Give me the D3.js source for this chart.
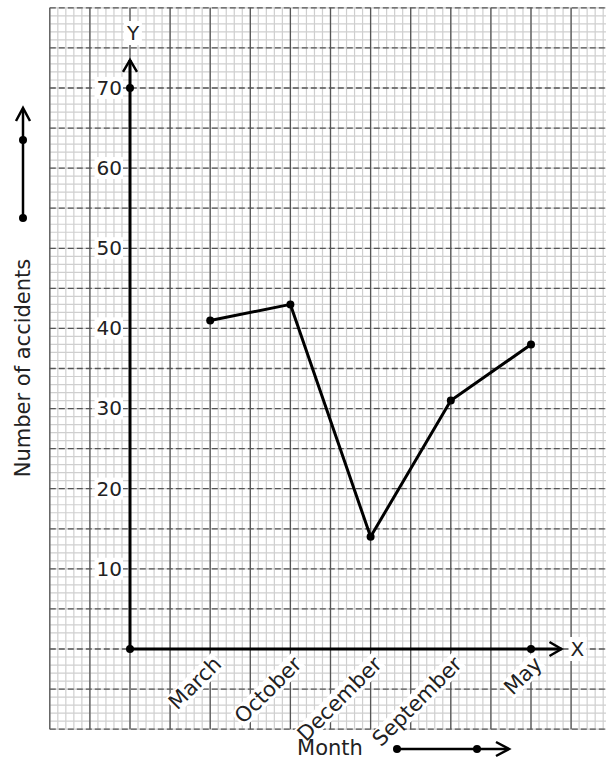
<!DOCTYPE html>
<html>
<head>
<meta charset="utf-8">
<script src="https://cdn.jsdelivr.net/npm/d3@7"></script>
<style>
  body { margin: 0; background: #fff; }
  text { font-family: "DejaVu Sans", sans-serif; fill: #222; }
</style>
</head>
<body>
<script>
// data
var months = ["March", "October", "December", "September", "May"];
var accidents = [41, 43, 14, 31, 38];
var yTicks = [10, 20, 30, 40, 50, 60, 70];

var w = 606, h = 762;

var svg = d3.select("body").append("svg")
    .attr("width", w)
    .attr("height", h);

// index 0 = origin, months sit at 1..5
var x = d3.scaleLinear().domain([0, 5]).range([130, 531]);
var y = d3.scaleLinear().domain([0, 70]).range([649, 88]);

// graph paper
var gx0 = -1, gx1 = 6.2, gy0 = -10, gy1 = 80;
var grid = svg.append("g");

var minorX = d3.range(gx0, gx1 + 0.001, 0.1);
var minorY = d3.range(gy0, gy1 + 0.001, 1);
grid.selectAll(".mx").data(minorX).enter().append("line")
    .attr("x1", function(d) { return x(d); })
    .attr("x2", function(d) { return x(d); })
    .attr("y1", y(gy1)).attr("y2", y(gy0))
    .attr("stroke", "#cfcfcf").attr("stroke-width", 1.2);
grid.selectAll(".my").data(minorY).enter().append("line")
    .attr("y1", function(d) { return y(d); })
    .attr("y2", function(d) { return y(d); })
    .attr("x1", x(gx0)).attr("x2", w)
    .attr("stroke", "#cfcfcf").attr("stroke-width", 1.2);

var majorX = d3.range(gx0, gx1 + 0.001, 0.5);
var majorY = d3.range(gy0, gy1 + 0.001, 5);
grid.selectAll(".Mx").data(majorX).enter().append("line")
    .attr("x1", function(d) { return x(d); })
    .attr("x2", function(d) { return x(d); })
    .attr("y1", y(gy1)).attr("y2", y(gy0))
    .attr("stroke", "#555").attr("stroke-width", 1.3);
grid.selectAll(".My").data(majorY).enter().append("line")
    .attr("y1", function(d) { return y(d); })
    .attr("y2", function(d) { return y(d); })
    .attr("x1", x(gx0)).attr("x2", w)
    .attr("stroke", "#555").attr("stroke-width", 1.3)
    .attr("stroke-dasharray", "6,3");

// axes lines
svg.append("line")
    .attr("x1", x(0)).attr("x2", x(0))
    .attr("y1", y(0)).attr("y2", y(73.5))
    .attr("stroke", "#000").attr("stroke-width", 3);
svg.append("line")
    .attr("x1", x(0)).attr("x2", x(5.38))
    .attr("y1", y(0)).attr("y2", y(0))
    .attr("stroke", "#000").attr("stroke-width", 3);

// arrow heads
svg.append("path")
    .attr("d", "M" + (x(0) - 7) + "," + (y(73.5) + 12) + "L" + x(0) + "," + y(73.5) + "L" + (x(0) + 7) + "," + (y(73.5) + 12))
    .attr("fill", "none").attr("stroke", "#000").attr("stroke-width", 2.5);
svg.append("path")
    .attr("d", "M" + (x(5.38) - 12) + "," + (y(0) - 7) + "L" + x(5.38) + "," + y(0) + "L" + (x(5.38) - 12) + "," + (y(0) + 7))
    .attr("fill", "none").attr("stroke", "#000").attr("stroke-width", 2.5);

// y tick labels via axis
var yAxis = svg.append("g")
    .attr("transform", "translate(" + x(0) + ",0)")
    .call(d3.axisLeft(y).tickValues(yTicks).tickSize(0).tickPadding(8));
yAxis.select(".domain").remove();
yAxis.selectAll("text")
    .attr("font-size", 20)
    .attr("font-family", "DejaVu Sans")
    .attr("fill", "#222");
yAxis.selectAll(".tick").each(function() {
    var t = d3.select(this).select("text").node();
    var b = t.getBBox();
    d3.select(this).insert("rect", "text")
        .attr("x", b.x - 2).attr("y", b.y + 1)
        .attr("width", b.width + 3).attr("height", b.height - 2)
        .attr("fill", "#fff");
});

// x tick labels, rotated
var xl = svg.append("g");
xl.selectAll("text").data(months).enter().append("text")
    .attr("transform", function(d, i) {
        return "translate(" + (x(i + 1) + 2) + "," + (y(0) + 6) + ") rotate(-45)";
    })
    .attr("text-anchor", "end")
    .attr("dy", "0.7em")
    .attr("font-size", 21)
    .text(function(d) { return d; });
xl.selectAll("text").each(function() {
    var b = this.getBBox();
    d3.select(this.parentNode).insert("rect", "text")
        .attr("x", b.x - 1).attr("y", b.y + 2)
        .attr("width", b.width + 2).attr("height", b.height - 4)
        .attr("fill", "#fff")
        .attr("transform", d3.select(this).attr("transform"));
});

// axis letters
function letter(txt, px, py) {
    var g = svg.append("g");
    var t = g.append("text").attr("x", px).attr("y", py)
        .attr("text-anchor", "middle").attr("dy", "0.35em")
        .attr("font-size", 20).text(txt);
    var b = t.node().getBBox();
    g.insert("rect", "text").attr("x", b.x - 2).attr("y", b.y)
        .attr("width", b.width + 4).attr("height", b.height).attr("fill", "#fff");
}
letter("Y", x(0) + 3, 33);
letter("X", x(5.38) + 16, y(0));

// the line
var line = d3.line()
    .x(function(d, i) { return x(i + 1); })
    .y(function(d) { return y(d); });
svg.append("path")
    .datum(accidents)
    .attr("d", line)
    .attr("fill", "none")
    .attr("stroke", "#000")
    .attr("stroke-width", 3);
svg.selectAll(".pt").data(accidents).enter().append("circle")
    .attr("cx", function(d, i) { return x(i + 1); })
    .attr("cy", function(d) { return y(d); })
    .attr("r", 4).attr("fill", "#000");

// axis dots: origin, y=70, last month on x axis
svg.append("circle").attr("cx", x(0)).attr("cy", y(0)).attr("r", 4);
svg.append("circle").attr("cx", x(0)).attr("cy", y(70)).attr("r", 4);
svg.append("circle").attr("cx", x(5)).attr("cy", y(0)).attr("r", 4);

// white area below the paper for the x title
svg.append("rect").attr("x", 0).attr("y", y(gy0) + 1).attr("width", w).attr("height", h)
    .attr("fill", "#fff").lower();

// x title + arrow
svg.append("text").attr("x", 330).attr("y", 755)
    .attr("text-anchor", "middle").attr("font-size", 21).text("Month");
svg.append("line").attr("x1", 397).attr("x2", 508).attr("y1", 749).attr("y2", 749)
    .attr("stroke", "#000").attr("stroke-width", 2.5);
svg.append("path").attr("d", "M496,742L509,749L496,756")
    .attr("fill", "none").attr("stroke", "#000").attr("stroke-width", 2.5);
svg.append("circle").attr("cx", 397).attr("cy", 749).attr("r", 4);
svg.append("circle").attr("cx", 477).attr("cy", 749).attr("r", 4);

// y title + arrow
svg.append("text")
    .attr("transform", "translate(30,368) rotate(-90)")
    .attr("text-anchor", "middle").attr("font-size", 21).text("Number of accidents");
svg.append("line").attr("x1", 23).attr("x2", 23).attr("y1", 218).attr("y2", 109)
    .attr("stroke", "#000").attr("stroke-width", 2.5);
svg.append("path").attr("d", "M16,121L23,108L30,121")
    .attr("fill", "none").attr("stroke", "#000").attr("stroke-width", 2.5);
svg.append("circle").attr("cx", 23).attr("cy", 218).attr("r", 4);
svg.append("circle").attr("cx", 23).attr("cy", 140).attr("r", 4);
</script>
</body>
</html>
